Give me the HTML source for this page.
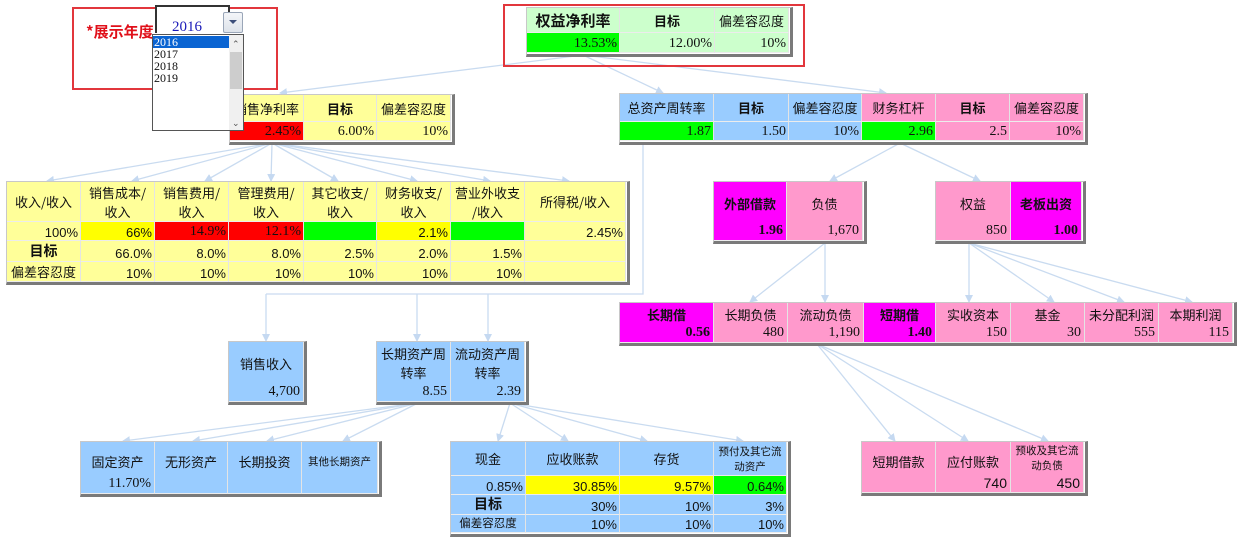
<!DOCTYPE html>
<html><head><meta charset="utf-8">
<style>
html,body{margin:0;padding:0;background:#fff;}
body{width:1239px;height:549px;position:relative;overflow:hidden;font-family:"Liberation Serif","Noto Sans CJK SC",serif;font-size:13px;color:#111;}
.w{position:absolute;border-top:1px solid #c8c8c8;border-left:1px solid #c8c8c8;border-right:3px solid #7a7a7a;border-bottom:3px solid #7a7a7a;}
.c{position:absolute;box-sizing:border-box;border-right:1px solid #e4e4e4;border-bottom:1px solid #ececec;white-space:nowrap;overflow:hidden;}
.h{display:flex;align-items:center;justify-content:center;text-align:center;line-height:19px;font-family:"Noto Sans CJK SC","Liberation Sans",sans-serif;font-size:13px;}
.v{display:flex;align-items:flex-end;justify-content:flex-end;padding-right:2px;font-size:14px;}
.s{font-family:"Liberation Sans",sans-serif;font-size:13px;}
.b{font-weight:bold;}
.lt{position:absolute;left:0;right:0;text-align:center;font-family:"Noto Sans CJK SC",sans-serif;font-size:13px;}
.lv{position:absolute;right:3px;bottom:1px;font-size:14px;}
.Y{background:#ffff99}.YY{background:#ffff00}.R{background:#ff0000}.G{background:#00ff00}.LG{background:#ccffcc}
.B{background:#99ccff}.P{background:#ff99cc}.M{background:#ff00ff}
.red{position:absolute;border:2px solid #e2363c;box-sizing:border-box;}
</style></head><body>

<svg width="1239" height="549" style="position:absolute;left:0;top:0" xmlns="http://www.w3.org/2000/svg">
<defs><marker id="a" markerWidth="8" markerHeight="8" refX="7" refY="4" orient="auto" markerUnits="userSpaceOnUse"><path d="M0,0 L8,4 L0,8 z" fill="#c5d9f1"/></marker></defs>
<g stroke="#c9dbf0" stroke-width="1.3" fill="none" marker-end="url(#a)">
<line x1="583" y1="55" x2="280" y2="93"/>
<line x1="583" y1="55" x2="663" y2="93"/>
<line x1="583" y1="55" x2="886" y2="93"/>
<line x1="272" y1="143" x2="47" y2="181"/>
<line x1="272" y1="143" x2="132" y2="181"/>
<line x1="272" y1="143" x2="205" y2="181"/>
<line x1="272" y1="143" x2="271" y2="181"/>
<line x1="272" y1="143" x2="338" y2="181"/>
<line x1="272" y1="143" x2="417" y2="181"/>
<line x1="272" y1="143" x2="490" y2="181"/>
<line x1="272" y1="143" x2="569" y2="181"/>
<line x1="900" y1="143" x2="830" y2="181"/>
<line x1="900" y1="143" x2="980" y2="181"/>
<line x1="825" y1="243" x2="750" y2="302"/>
<line x1="825" y1="243" x2="825" y2="302"/>
<line x1="969" y1="243" x2="969" y2="302"/>
<line x1="969" y1="243" x2="1054" y2="302"/>
<line x1="969" y1="243" x2="1124" y2="302"/>
<line x1="969" y1="243" x2="1192" y2="302"/>
<line x1="817" y1="344" x2="895" y2="441"/>
<line x1="817" y1="344" x2="968" y2="441"/>
<line x1="817" y1="344" x2="1048" y2="441"/>
<line x1="266" y1="294" x2="266" y2="341"/>
<line x1="417" y1="294" x2="417" y2="341"/>
<line x1="488" y1="294" x2="488" y2="341"/>
<line x1="418" y1="403" x2="123" y2="441"/>
<line x1="418" y1="403" x2="193" y2="441"/>
<line x1="418" y1="403" x2="267" y2="441"/>
<line x1="418" y1="403" x2="343" y2="441"/>
<line x1="510" y1="403" x2="498" y2="441"/>
<line x1="510" y1="403" x2="568" y2="441"/>
<line x1="510" y1="403" x2="647" y2="441"/>
<line x1="510" y1="403" x2="743" y2="441"/>
</g>
<polyline points="643,143 643,294 266,294" stroke="#c9dbf0" stroke-width="1.3" fill="none"/>
</svg>

<!-- ROE -->
<div class="red" style="left:503px;top:4px;width:302px;height:63px;"></div>
<div class="w" style="left:526px;top:7px;width:263px;height:46px;"></div>
<div class="c h LG b" style="left:527px;top:8px;width:93px;height:25px;font-size:15px;">权益净利率</div>
<div class="c h LG b" style="left:620px;top:8px;width:95px;height:25px;">目标</div>
<div class="c h LG" style="left:715px;top:8px;width:74px;height:25px;">偏差容忍度</div>
<div class="c v G" style="left:527px;top:33px;width:93px;height:20px;">13.53%</div>
<div class="c v LG" style="left:620px;top:33px;width:95px;height:20px;">12.00%</div>
<div class="c v LG" style="left:715px;top:33px;width:74px;height:20px;">10%</div>

<!-- sales margin -->
<div class="w" style="left:229px;top:94px;width:222px;height:47px;"></div>
<div class="c h Y" style="left:230px;top:95px;width:74px;height:27px;">销售净利率</div>
<div class="c h Y b" style="left:304px;top:95px;width:73px;height:27px;">目标</div>
<div class="c h Y" style="left:377px;top:95px;width:74px;height:27px;">偏差容忍度</div>
<div class="c v R" style="left:230px;top:122px;width:74px;height:19px;">2.45%</div>
<div class="c v Y" style="left:304px;top:122px;width:73px;height:19px;">6.00%</div>
<div class="c v Y" style="left:377px;top:122px;width:74px;height:19px;">10%</div>

<!-- asset turnover / leverage -->
<div class="w" style="left:619px;top:93px;width:465px;height:48px;"></div>
<div class="c h B" style="left:620px;top:94px;width:94px;height:28px;">总资产周转率</div>
<div class="c h B b" style="left:714px;top:94px;width:75px;height:28px;">目标</div>
<div class="c h B" style="left:789px;top:94px;width:73px;height:28px;">偏差容忍度</div>
<div class="c h P" style="left:862px;top:94px;width:74px;height:28px;">财务杠杆</div>
<div class="c h P b" style="left:936px;top:94px;width:74px;height:28px;">目标</div>
<div class="c h P" style="left:1010px;top:94px;width:74px;height:28px;">偏差容忍度</div>
<div class="c v G" style="left:620px;top:122px;width:94px;height:19px;">1.87</div>
<div class="c v B" style="left:714px;top:122px;width:75px;height:19px;">1.50</div>
<div class="c v B" style="left:789px;top:122px;width:73px;height:19px;">10%</div>
<div class="c v G" style="left:862px;top:122px;width:74px;height:19px;">2.96</div>
<div class="c v P" style="left:936px;top:122px;width:74px;height:19px;">2.5</div>
<div class="c v P" style="left:1010px;top:122px;width:74px;height:19px;">10%</div>

<!-- big yellow table -->
<div class="w" style="left:6px;top:181px;width:620px;height:100px;"></div>
<div class="c h Y" style="left:7px;top:182px;width:74px;height:40px;">收入/收入</div>
<div class="c h Y" style="left:81px;top:182px;width:74px;height:40px;">销售成本/<br>收入</div>
<div class="c h Y" style="left:155px;top:182px;width:74px;height:40px;">销售费用/<br>收入</div>
<div class="c h Y" style="left:229px;top:182px;width:75px;height:40px;">管理费用/<br>收入</div>
<div class="c h Y" style="left:304px;top:182px;width:73px;height:40px;">其它收支/<br>收入</div>
<div class="c h Y" style="left:377px;top:182px;width:74px;height:40px;">财务收支/<br>收入</div>
<div class="c h Y" style="left:451px;top:182px;width:74px;height:40px;">营业外收支<br>/收入</div>
<div class="c h Y" style="left:525px;top:182px;width:101px;height:40px;">所得税/收入</div>

<div class="c v s Y" style="left:7px;top:222px;width:74px;height:19px;">100%</div>
<div class="c v s YY" style="left:81px;top:222px;width:74px;height:19px;">66%</div>
<div class="c v R" style="left:155px;top:222px;width:74px;height:19px;">14.9%</div>
<div class="c v R" style="left:229px;top:222px;width:75px;height:19px;">12.1%</div>
<div class="c v G" style="left:304px;top:222px;width:73px;height:19px;"></div>
<div class="c v s YY" style="left:377px;top:222px;width:74px;height:19px;">2.1%</div>
<div class="c v G" style="left:451px;top:222px;width:74px;height:19px;"></div>
<div class="c v s Y" style="left:525px;top:222px;width:101px;height:19px;">2.45%</div>

<div class="c h Y b" style="left:7px;top:241px;width:74px;height:21px;font-size:14px;">目标</div>
<div class="c v s Y" style="left:81px;top:241px;width:74px;height:21px;">66.0%</div>
<div class="c v s Y" style="left:155px;top:241px;width:74px;height:21px;">8.0%</div>
<div class="c v s Y" style="left:229px;top:241px;width:75px;height:21px;">8.0%</div>
<div class="c v s Y" style="left:304px;top:241px;width:73px;height:21px;">2.5%</div>
<div class="c v s Y" style="left:377px;top:241px;width:74px;height:21px;">2.0%</div>
<div class="c v s Y" style="left:451px;top:241px;width:74px;height:21px;">1.5%</div>
<div class="c v s Y" style="left:525px;top:241px;width:101px;height:21px;"></div>

<div class="c h Y" style="left:7px;top:262px;width:74px;height:20px;">偏差容忍度</div>
<div class="c v s Y" style="left:81px;top:262px;width:74px;height:20px;">10%</div>
<div class="c v s Y" style="left:155px;top:262px;width:74px;height:20px;">10%</div>
<div class="c v s Y" style="left:229px;top:262px;width:75px;height:20px;">10%</div>
<div class="c v s Y" style="left:304px;top:262px;width:73px;height:20px;">10%</div>
<div class="c v s Y" style="left:377px;top:262px;width:74px;height:20px;">10%</div>
<div class="c v s Y" style="left:451px;top:262px;width:74px;height:20px;">10%</div>
<div class="c v s Y" style="left:525px;top:262px;width:101px;height:20px;"></div>

<!-- 外部借款 -->
<div class="w" style="left:713px;top:181px;width:150px;height:59px;"></div>
<div class="c M" style="left:714px;top:182px;width:73px;height:59px;"><div class="lt b" style="top:12px;">外部借款</div><div class="lv b">1.96</div></div>
<div class="c P" style="left:787px;top:182px;width:76px;height:59px;"><div class="lt" style="top:12px;">负债</div><div class="lv">1,670</div></div>

<!-- 权益 -->
<div class="w" style="left:935px;top:181px;width:147px;height:59px;"></div>
<div class="c P" style="left:936px;top:182px;width:75px;height:59px;"><div class="lt" style="top:12px;">权益</div><div class="lv">850</div></div>
<div class="c M" style="left:1011px;top:182px;width:71px;height:59px;"><div class="lt b" style="top:12px;">老板出资</div><div class="lv b">1.00</div></div>

<!-- bottom pink row -->
<div class="w" style="left:619px;top:302px;width:614px;height:40px;"></div>
<div class="c M" style="left:620px;top:303px;width:94px;height:40px;"><div class="lt b" style="top:2px;">长期借</div><div class="lv b">0.56</div></div>
<div class="c P" style="left:714px;top:303px;width:74px;height:40px;"><div class="lt" style="top:2px;">长期负债</div><div class="lv">480</div></div>
<div class="c P" style="left:788px;top:303px;width:76px;height:40px;"><div class="lt" style="top:2px;">流动负债</div><div class="lv">1,190</div></div>
<div class="c M" style="left:864px;top:303px;width:72px;height:40px;"><div class="lt b" style="top:2px;">短期借</div><div class="lv b">1.40</div></div>
<div class="c P" style="left:936px;top:303px;width:75px;height:40px;"><div class="lt" style="top:2px;">实收资本</div><div class="lv">150</div></div>
<div class="c P" style="left:1011px;top:303px;width:74px;height:40px;"><div class="lt" style="top:2px;">基金</div><div class="lv">30</div></div>
<div class="c P" style="left:1085px;top:303px;width:74px;height:40px;"><div class="lt" style="top:2px;">未分配利润</div><div class="lv">555</div></div>
<div class="c P" style="left:1159px;top:303px;width:74px;height:40px;"><div class="lt" style="top:2px;">本期利润</div><div class="lv">115</div></div>

<!-- 销售收入 -->
<div class="w" style="left:228px;top:341px;width:75px;height:60px;"></div>
<div class="c B" style="left:229px;top:342px;width:75px;height:60px;"><div class="lt" style="top:12px;">销售收入</div><div class="lv">4,700</div></div>

<!-- 长期/流动资产周转率 -->
<div class="w" style="left:376px;top:341px;width:149px;height:60px;"></div>
<div class="c B" style="left:377px;top:342px;width:74px;height:60px;"><div class="lt" style="top:2px;line-height:19px;">长期资产周<br>转率</div><div class="lv">8.55</div></div>
<div class="c B" style="left:451px;top:342px;width:74px;height:60px;"><div class="lt" style="top:2px;line-height:19px;">流动资产周<br>转率</div><div class="lv">2.39</div></div>

<!-- 固定资产 row -->
<div class="w" style="left:80px;top:441px;width:298px;height:52px;"></div>
<div class="c B" style="left:81px;top:442px;width:74px;height:52px;"><div class="lt" style="top:10px;">固定资产</div><div class="lv">11.70%</div></div>
<div class="c B" style="left:155px;top:442px;width:73px;height:52px;"><div class="lt" style="top:10px;">无形资产</div></div>
<div class="c B" style="left:228px;top:442px;width:74px;height:52px;"><div class="lt" style="top:10px;">长期投资</div></div>
<div class="c B" style="left:302px;top:442px;width:76px;height:52px;"><div class="lt" style="top:12px;font-size:10.5px;">其他长期资产</div></div>

<!-- 现金 table -->
<div class="w" style="left:450px;top:441px;width:337px;height:92px;"></div>
<div class="c h B" style="left:451px;top:442px;width:75px;height:34px;">现金</div>
<div class="c h B" style="left:526px;top:442px;width:94px;height:34px;">应收账款</div>
<div class="c h B" style="left:620px;top:442px;width:94px;height:34px;">存货</div>
<div class="c h B" style="left:714px;top:442px;width:73px;height:34px;font-size:10.5px;line-height:15px;">预付及其它流<br>动资产</div>
<div class="c v s B" style="left:451px;top:476px;width:75px;height:19px;">0.85%</div>
<div class="c v s YY" style="left:526px;top:476px;width:94px;height:19px;">30.85%</div>
<div class="c v s YY" style="left:620px;top:476px;width:94px;height:19px;">9.57%</div>
<div class="c v s G" style="left:714px;top:476px;width:73px;height:19px;">0.64%</div>
<div class="c h B b" style="left:451px;top:495px;width:75px;height:20px;font-size:14px;">目标</div>
<div class="c v s B" style="left:526px;top:495px;width:94px;height:20px;">30%</div>
<div class="c v s B" style="left:620px;top:495px;width:94px;height:20px;">10%</div>
<div class="c v s B" style="left:714px;top:495px;width:73px;height:20px;">3%</div>
<div class="c h B" style="left:451px;top:515px;width:75px;height:18px;font-size:11.5px;">偏差容忍度</div>
<div class="c v s B" style="left:526px;top:515px;width:94px;height:18px;">10%</div>
<div class="c v s B" style="left:620px;top:515px;width:94px;height:18px;">10%</div>
<div class="c v s B" style="left:714px;top:515px;width:73px;height:18px;">10%</div>

<!-- 短期借款 table -->
<div class="w" style="left:861px;top:441px;width:223px;height:51px;"></div>
<div class="c P" style="left:862px;top:442px;width:74px;height:51px;"><div class="lt" style="top:10px;">短期借款</div></div>
<div class="c P" style="left:936px;top:442px;width:75px;height:51px;"><div class="lt" style="top:10px;">应付账款</div><div class="lv s">740</div></div>
<div class="c P" style="left:1011px;top:442px;width:73px;height:51px;"><div class="lt" style="top:1px;font-size:10.5px;line-height:15px;">预收及其它流<br>动负债</div><div class="lv s">450</div></div>

<!-- year selector -->
<div class="red" style="left:72px;top:7px;width:206px;height:83px;"></div>
<div style="position:absolute;left:86px;top:21px;color:#e0101a;font-weight:bold;font-size:15px;font-family:'Noto Sans CJK SC',sans-serif;">*展示年度</div>
<div style="position:absolute;left:155px;top:5px;width:75px;height:28px;border-left:2px solid #333;border-top:2px solid #333;border-right:2px solid #333;box-sizing:border-box;background:#fff;"></div>
<div style="position:absolute;left:172px;top:19px;color:#1a1ab8;font-size:15px;">2016</div>
<div style="position:absolute;left:223px;top:12px;width:20px;height:21px;box-sizing:border-box;border:1px solid #9aa6b8;border-radius:2px;background:linear-gradient(#f4f6f9,#dde3ea);"></div>
<div style="position:absolute;left:229px;top:20px;width:0;height:0;border-left:4px solid transparent;border-right:4px solid transparent;border-top:4px solid #3b4e7a;"></div>
<div style="position:absolute;left:152px;top:34px;width:92px;height:97px;box-sizing:border-box;border:1px solid #555;background:#fff;font-family:'Liberation Serif',serif;font-size:12px;line-height:12px;">
  <div style="position:absolute;left:0;top:1px;width:75px;background:#0a64d2;color:#fff;padding-left:1px;">2016</div>
  <div style="position:absolute;left:1px;top:13px;">2017</div>
  <div style="position:absolute;left:1px;top:25px;">2018</div>
  <div style="position:absolute;left:1px;top:37px;">2019</div>
  <div style="position:absolute;left:76px;top:0;width:14px;height:95px;background:#f0f0f0;"></div>
  <div style="position:absolute;left:77px;top:17px;width:12px;height:37px;background:#cdcdcd;"></div>
  <div style="position:absolute;left:79px;top:3px;font-size:9px;color:#555;">&#8963;</div>
  <div style="position:absolute;left:79px;top:82px;font-size:9px;color:#555;">&#8964;</div>
</div>

</body></html>
